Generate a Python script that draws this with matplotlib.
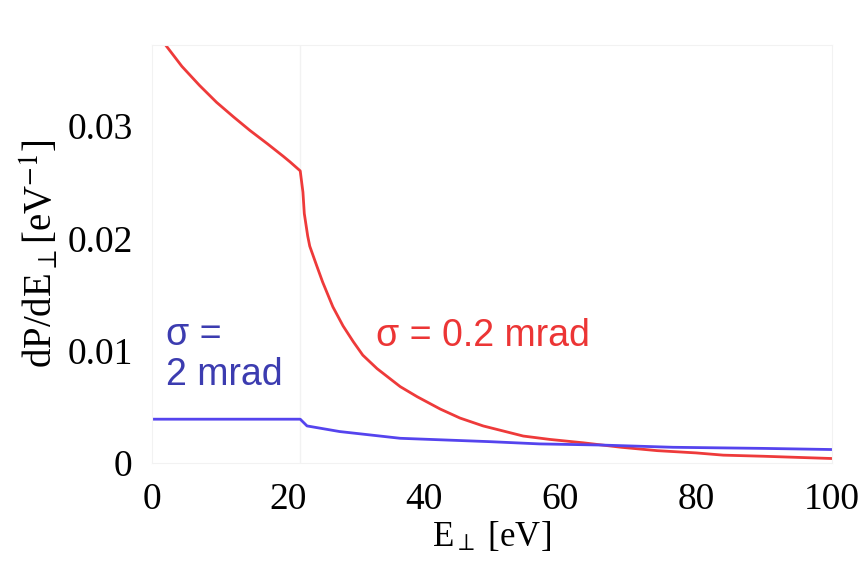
import matplotlib
matplotlib.use('Agg')
import matplotlib.pyplot as plt

plt.rcParams['mathtext.fontset'] = 'stix'

# sigma = 0.2 mrad (red)
e_red = [0, 2, 4.4, 7, 9.5, 12, 14.4, 17, 19.3, 20.3, 21.8, 22.2, 22.4, 22.9,
         23.2, 24.2, 25.1, 26.6, 28.1, 29.6, 31, 33.1, 36.5, 39, 42.4, 45.3,
         48.7, 54.6, 58.5, 63.4, 69, 74.3, 80, 84, 90, 95, 100]
p_red = [0.0385, 0.0372, 0.0353, 0.0336, 0.0321, 0.0308, 0.0296, 0.0284, 0.0273,
         0.0268, 0.0260, 0.0241, 0.0222, 0.0202, 0.0193, 0.0176, 0.0161, 0.0139,
         0.0122, 0.0108, 0.0096, 0.0084, 0.0068, 0.0059, 0.0048, 0.0040, 0.0033,
         0.0024, 0.0021, 0.0018, 0.0014, 0.0011, 0.0009, 0.0007, 0.0006, 0.0005,
         0.0004]

# sigma = 2 mrad (blue)
e_blue = [0, 10, 21.8, 22.8, 27.6, 36.5, 49.7, 57, 66, 76.6, 90, 100]
p_blue = [0.0039, 0.0039, 0.0039, 0.0033, 0.0028, 0.0022, 0.0019, 0.0017,
          0.0016, 0.0014, 0.0013, 0.0012]

xticks = [0, 20, 40, 60, 80, 100]
yticks = [0, 0.01, 0.02, 0.03]
ytick_labels = ['0', '0.01', '0.02', '0.03']

fig = plt.figure(figsize=(8.67, 5.70), dpi=100)
ax = fig.add_axes([0.1753, 0.1877, 0.7843, 0.7333])

ax.plot(e_red, p_red, color='#ee3a3a', lw=2)
ax.plot(e_blue, p_blue, color='#5544ee', lw=2)
ax.axvline(21.7, color='#f2f2f2', lw=1, zorder=0)

ax.set_xlim(0, 100)
ax.set_ylim(0, 0.0372)
ax.set_xticks(xticks)
ax.set_yticks(yticks)
ax.set_yticklabels(ytick_labels)
ax.tick_params(length=0, labelsize=27, pad=14)
for lab in ax.get_xticklabels() + ax.get_yticklabels():
    lab.set_family('Liberation Serif')
for s in ax.spines.values():
    s.set_color('#f2f2f2')

ax.set_xlabel(r'E$_\perp$ [eV]', family='Liberation Serif', fontsize=25, labelpad=2)
ax.set_ylabel(r'dP/dE$_\perp$[eV$^{-1}$]', family='Liberation Serif', fontsize=28, labelpad=4)

ax.text(33, 0.0113, r'σ = 0.2 mrad', color='#ec3535', fontsize=27,
        family='Liberation Sans', va='center')
ax.text(2, 0.0096, 'σ =\n2 mrad', color='#3c3cb0', fontsize=27,
        family='Liberation Sans', va='center', linespacing=1.15)

fig.savefig('out.png', dpi=100)
